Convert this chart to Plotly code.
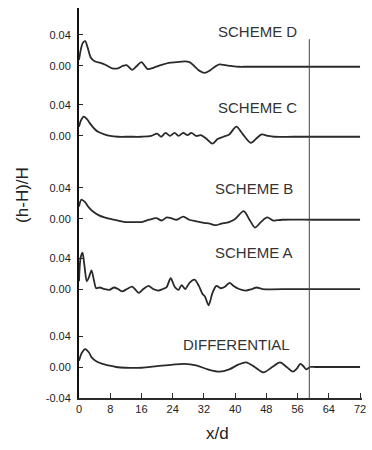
import plotly.graph_objects as go

# ---- data (values of (h-H)/H) ----
x_d = [0, 0.5, 1.0, 1.6, 2.2, 3.0, 4.0, 5.5, 7.0, 8.5, 10.0, 11.2, 12.2, 13.6, 14.8, 16.0, 17.6, 19.2,
       21.0, 23.0, 25.0, 27.0, 28.3, 29.5, 30.8, 32.2, 33.5, 34.8, 36.0, 37.5, 39.0, 41.0, 43.0, 50, 60, 72]
y_d = [0.008, 0.022, 0.030, 0.032, 0.024, 0.011, 0.006, 0.004, 0.001, -0.003, -0.003, 0.000, 0.001, -0.005,
       0.000, 0.005, -0.004, -0.002, 0.001, 0.004, 0.005, 0.006, 0.005, 0.000, -0.006, -0.009, -0.006, -0.001,
       0.002, 0.001, 0.000, -0.001, -0.001, -0.001, -0.001, -0.001]

x_c = [0, 0.5, 1.2, 2.0, 3.0, 4.0, 5.0, 6.5, 8.0, 10, 13, 16, 18.5, 20.0, 21.0, 22.2, 23.3, 24.5, 25.5,
       26.7, 27.8, 28.8, 30.0, 31.2, 32.5, 34.2, 35.5, 37.0, 38.5, 40.3, 42.0, 44.0, 45.5, 46.8, 48.5, 50, 55, 72]
y_c = [0.012, 0.020, 0.025, 0.022, 0.015, 0.009, 0.005, 0.002, 0.000, -0.001, -0.001, -0.001, 0.000, 0.003,
       -0.001, 0.004, 0.000, 0.004, 0.000, 0.004, 0.001, 0.004, 0.000, 0.001, -0.003, -0.010, -0.004, -0.001,
       0.002, 0.012, 0.002, -0.009, -0.003, 0.002, 0.000, -0.001, -0.001, -0.001]

x_b = [0, 0.6, 1.5, 2.5, 3.5, 5.0, 6.5, 8.0, 10, 12, 14, 16, 18, 19.8, 21.2, 22.5, 23.6, 25, 26.7, 28.2,
       30, 32, 33.5, 35, 36.5, 38.4, 40, 42.2, 43.8, 45.1, 46.6, 48.2, 49.8, 52, 60, 72]
y_b = [0.016, 0.025, 0.022, 0.015, 0.010, 0.005, 0.002, 0.000, -0.002, -0.004, -0.004, -0.004, -0.001, 0.001,
       -0.002, 0.002, 0.001, -0.001, 0.003, -0.001, -0.003, -0.005, -0.006, -0.008, -0.006, -0.004, 0.000,
       0.010, -0.002, -0.011, -0.004, 0.002, -0.002, -0.001, -0.001, -0.001]

x_a = [0, 0.4, 0.9, 1.4, 2.0, 2.6, 3.2, 3.8, 4.4, 5.3, 6.5, 7.8, 9.0, 10.0, 11.1, 12.3, 13.6, 14.5, 15.3,
       16.5, 17.8, 19.0, 20.3, 21.5, 22.4, 23.5, 24.5, 25.5, 26.3, 27.2, 28.3, 29.6, 30.7, 31.6, 32.3, 33.2,
       34.2, 35.2, 36.3, 37.4, 38.6, 39.6, 41.0, 42.7, 44.3, 45.5, 47, 55, 72]
y_a = [0.010, 0.040, 0.047, 0.030, 0.010, 0.016, 0.024, 0.012, 0.001, 0.002, 0.000, -0.001, 0.002, 0.000,
       -0.003, 0.000, 0.003, -0.001, -0.005, 0.000, 0.004, 0.000, -0.002, 0.000, 0.002, 0.014, 0.003, -0.001,
       0.005, 0.000, 0.008, 0.012, 0.004, -0.006, -0.010, -0.021, -0.005, 0.004, 0.001, 0.003, 0.008, 0.004,
       0.000, -0.002, 0.000, 0.002, 0.000, 0.000, 0.000]

x_diff = [0, 0.7, 1.6, 2.5, 3.3, 4.5, 6.0, 7.6, 9.5, 12, 16, 20, 24, 27, 30, 33, 36, 38.5, 40.8, 42.8, 45,
          47.3, 49.5, 51.5, 53.2, 54.8, 55.8, 56.7, 57.5, 58.2, 59.2, 60.5, 72]
y_diff = [0.008, 0.018, 0.023, 0.019, 0.012, 0.007, 0.004, 0.002, 0.000, -0.001, -0.001, 0.001, 0.003, 0.004,
          0.002, -0.003, -0.006, -0.003, 0.003, 0.006, 0.000, -0.007, 0.000, 0.006, 0.000, -0.006, -0.002,
          0.004, 0.001, -0.003, 0.000, 0.000, 0.000]

names = ["SCHEME D", "SCHEME C", "SCHEME B", "SCHEME A", "DIFFERENTIAL"]
xs = [x_d, x_c, x_b, x_a, x_diff]
ys = [y_d, y_c, y_b, y_a, y_diff]
x_ticks = [0, 8, 16, 24, 32, 40, 48, 56, 64, 72]
x_tick_text = ["0", "8", "16", "24", "32", "40", "48", "56", "64", "72"]
x_marker = 59  # vertical reference line position (x/d)

# ---- layout (vertical stacking of the panels on one axis) ----
offsets = [0.3884, 0.2981, 0.1910, 0.1006, 0.0]
label_pos = [(0.777, 0.941), (0.777, 0.746), (0.763, 0.538), (0.763, 0.372), (0.753, 0.136)]

INK = "#2a2a2a"
FONT = "Liberation Sans, Arial, sans-serif"

fig = go.Figure()
tickvals, ticktext = [], []
for name, x, y, off in zip(names, xs, ys, offsets):
    fig.add_trace(go.Scatter(x=x, y=[v + off for v in y], mode="lines", name=name,
                             line=dict(color=INK, width=1.8, shape="spline", smoothing=0.8),
                             showlegend=False, hoverinfo="skip"))
    tickvals += [off + 0.04, off]
    ticktext += ["0.04", "0.00"]
tickvals.append(-0.04)
ticktext.append("-0.04")

fig.add_shape(type="line", xref="x", yref="y", x0=x_marker, x1=x_marker, y0=-0.04, y1=0.423,
              line=dict(color="#444", width=1))

for name, (px, py) in zip(names, label_pos):
    fig.add_annotation(text=name, xref="paper", yref="paper", x=px, y=py, xanchor="right",
                       yanchor="middle", showarrow=False,
                       font=dict(family=FONT, size=15, color="#333"))

fig.add_annotation(text="x/d", xref="paper", yref="paper", x=0.488, y=-0.092, showarrow=False,
                   xanchor="center", yanchor="middle", font=dict(family=FONT, size=17, color="#222"))
fig.add_annotation(text="(h-H)/H", xref="paper", yref="paper", x=-0.199, y=0.52, showarrow=False,
                   textangle=-90, xanchor="center", yanchor="middle",
                   font=dict(family=FONT, size=17, color="#222"))

fig.update_layout(
    width=372, height=450,
    margin=dict(l=79, r=6, t=8, b=52),
    paper_bgcolor="white", plot_bgcolor="white",
    xaxis=dict(range=[0, 72.5], tickvals=x_ticks, ticktext=x_tick_text, ticks="inside", ticklen=5,
               tickwidth=1.2, tickcolor=INK, showline=True, linecolor=INK, linewidth=1.5,
               showgrid=False, zeroline=False, fixedrange=True,
               tickfont=dict(family=FONT, size=11, color="#222")),
    yaxis=dict(range=[-0.04, 0.4632], tickvals=tickvals, ticktext=ticktext, ticks="inside", ticklen=4,
               tickwidth=1.2, tickcolor=INK, showline=True, linecolor="#111", linewidth=2,
               showgrid=False, zeroline=False, fixedrange=True, ticklabelstandoff=4,
               tickfont=dict(family=FONT, size=11, color="#222")),
)

fig.write_html("out.html")
